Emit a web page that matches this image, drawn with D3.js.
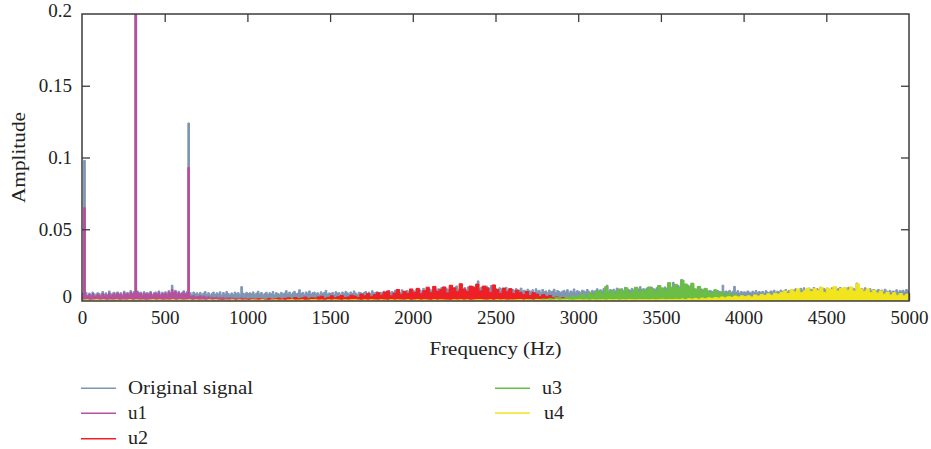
<!DOCTYPE html>
<html>
<head>
<meta charset="utf-8">
<script src="https://cdn.jsdelivr.net/npm/d3@7"></script>
<style>
  html, body { margin: 0; padding: 0; background: #fff; }
  svg { display: block; font-family: "Liberation Serif", "Times New Roman", serif; }
</style>
</head>
<body>
<svg id="chart" width="931" height="449"></svg>
<script>
// ---------- DATA (amplitudes in units of 1e-4) ----------
const AMP_UNIT = 1e-4;
const xTicks = [0, 500, 1000, 1500, 2000, 2500, 3000, 3500, 4000, 4500, 5000];
const yTicks = [0, 0.05, 0.1, 0.15, 0.2];
const yTickLabels = ["0", "0.05", "0.1", "0.15", "0.2"];
const seriesNames = ["Original signal", "u1", "u2", "u3", "u4"];
const seriesColors = ["#7f96b3", "#b84f9f", "#ee1f26", "#6abd45", "#f2e41d"];

// Original signal: 0..5000 Hz, 10 Hz bins
const originalStart = 0, originalStep = 10;
const original = [
  45,980,60,42,55,38,62,50,44,58,
  52,40,66,48,57,45,70,43,55,61,
  47,63,50,58,44,68,52,60,49,72,
  55,66,2600,70,58,62,48,65,54,60,
  50,67,45,58,63,52,70,47,61,55,
  64,50,72,58,110,62,75,55,68,52,
  60,71,54,66,1240,58,45,62,50,57,
  48,60,43,55,66,46,58,41,53,62,
  45,57,50,64,42,59,48,66,52,44,
  56,47,62,51,58,45,100,55,49,60,
  44,57,50,63,46,55,68,48,59,42,
  53,61,45,57,50,66,43,58,52,47,
  60,49,56,72,51,62,45,58,67,50,
  55,78,52,60,47,63,54,70,48,58,
  62,50,57,46,64,53,59,74,49,56,
  51,60,47,65,55,58,44,62,53,67,
  57,48,63,52,70,55,46,61,58,50,
  59,66,52,62,49,71,56,60,64,53,
  61,55,68,58,64,72,57,66,60,75,
  63,70,58,78,66,61,74,68,80,62,
  72,65,84,70,77,63,88,71,79,67,
  82,74,69,90,76,85,70,95,78,73,
  86,79,92,75,88,81,105,77,90,84,
  80,93,76,98,85,89,102,82,94,140,
  88,96,79,92,105,84,90,108,81,95,
  86,78,92,74,88,82,95,76,84,70,
  80,72,86,68,77,90,70,75,64,82,
  72,66,78,62,85,68,74,60,80,65,
  70,58,76,64,69,82,60,73,66,59,
  68,74,62,79,57,70,65,84,61,72,
  66,60,75,70,63,80,68,58,74,67,
  72,85,64,78,70,88,76,110,68,80,
  74,82,70,90,66,78,85,72,95,76,
  80,73,88,77,92,70,84,100,75,86,
  78,90,82,74,96,85,79,92,88,76,
  90,84,98,88,105,92,86,130,95,100,
  108,96,150,102,118,94,110,88,104,92,
  85,78,92,72,84,76,70,80,68,74,
  70,64,76,60,72,66,58,110,64,70,
  62,74,58,68,102,60,72,55,66,61,
  64,58,70,62,55,68,60,73,57,66,
  60,67,54,72,62,58,70,64,75,59,
  68,62,76,66,72,80,64,74,70,78,
  74,85,70,80,88,76,92,72,84,90,
  82,76,94,80,86,78,96,84,88,80,
  90,84,78,92,86,98,80,88,94,82,
  86,92,80,96,84,90,88,78,125,85,
  80,88,76,92,82,74,86,70,80,76,
  72,80,68,76,64,82,70,66,74,62,
  70,64,78,60,72,68,75,62,80,70,
  66
];

// u1: 0..1500 Hz, 10 Hz bins
const u1Start = 0, u1Step = 10;
const u1 = [
  30,650,40,28,45,22,50,35,30,48,
  38,25,52,33,44,28,55,30,42,50,
  35,55,40,48,30,58,42,52,38,62,
  45,56,2600,60,48,52,36,55,44,50,
  40,57,34,48,53,42,60,36,51,45,
  54,40,62,48,80,52,65,45,58,42,
  50,60,44,55,930,35,28,38,25,32,
  30,36,24,33,28,22,30,20,26,24,
  22,27,18,25,20,24,17,22,19,23,
  18,21,16,20,17,19,22,15,18,16,
  15,17,13,16,12,15,14,11,13,12,
  12,10,13,9,11,10,12,8,11,9,
  10,8,11,9,7,10,8,9,7,8,
  8,7,9,6,8,7,6,8,5,7,
  6,5,7,5,6,4,5,6,4,5,
  4
];

// u2: 800..4200 Hz, 20 Hz bins
const u2Start = 800, u2Step = 20;
const u2 = [
  3,6,8,4,5,9,7,6,10,8,
  9,13,8,16,12,10,18,11,15,20,
  14,19,22,13,24,17,21,27,16,23,
  20,28,33,19,25,36,22,30,38,24,
  28,40,34,25,48,36,52,30,44,58,
  40,62,70,36,55,80,46,68,52,84,
  60,88,50,72,96,58,102,66,82,98,
  56,110,92,64,120,84,66,104,96,118,
  70,104,92,60,112,80,54,90,64,86,
  52,76,60,44,66,38,58,48,32,44,
  30,38,22,28,18,24,12,16,10,12,
  8,10,7,9,6,8,5,7,6,8,
  5,7,6,4,6,5,7,4,6,5,
  6,4,5,7,4,6,5,3,5,6,
  4,6,3,5,4,6,5,3,4,5,
  3,5,4,6,3,4,5,3,4,3,
  4,3,5,3,4,2,3,4,2,3,
  2
];

// u3: 2600..5000 Hz, 20 Hz bins
const u3Start = 2600, u3Step = 20;
const u3 = [
  3,6,9,5,8,10,6,12,9,14,
  12,18,14,24,20,16,28,22,34,30,
  36,48,30,58,44,64,70,50,100,60,
  72,54,84,66,92,58,70,96,62,80,
  68,98,84,60,108,90,72,128,96,116,
  86,145,118,100,124,82,102,70,88,62,
  56,78,48,64,40,56,34,48,28,38,
  24,32,20,26,16,20,13,16,10,14,
  10,12,9,11,8,10,9,7,9,8,
  7,9,6,8,7,6,8,5,7,6,
  6,8,5,7,6,5,7,6,5,6,
  5,7,6,5,6,4,6,5,7,5,
  5
];

// u4: 0..5000 Hz, 20 Hz bins
const u4Start = 0, u4Step = 20;
const u4 = [
  6,8,5,7,9,6,8,5,7,6,
  8,5,7,6,9,5,8,6,7,5,
  7,9,6,8,5,7,6,9,5,8,
  6,7,9,5,8,6,7,5,9,6,
  8,6,5,7,6,9,5,8,6,7,
  5,8,7,6,9,6,5,7,8,6,
  7,5,8,9,6,7,8,5,6,9,
  9,6,7,5,8,6,9,7,5,8,
  6,8,9,7,5,8,6,9,7,6,
  8,7,5,9,6,8,7,6,9,5,
  7,9,6,8,7,5,9,6,8,7,
  6,5,8,7,9,6,8,5,7,9,
  9,7,6,8,5,9,7,8,6,7,
  7,8,9,6,8,7,5,9,8,6,
  8,6,7,9,6,8,9,7,6,8,
  9,7,8,6,9,7,8,9,7,10,
  8,10,7,9,8,11,9,8,10,9,
  10,9,11,8,10,12,9,11,10,12,
  10,14,9,16,13,18,12,20,15,22,
  18,24,20,28,22,30,26,34,28,36,
  30,36,28,42,34,46,38,50,40,54,
  48,60,70,52,78,64,84,58,72,90,
  66,86,74,96,60,90,80,100,70,88,
  92,76,98,70,120,84,68,84,60,76,
  56,70,48,62,42,58,40,52,36,48,
  40
];

const seriesValues = [original, u1, u2, u3, u4];
const seriesStarts = [originalStart, u1Start, u2Start, u3Start, u4Start];
const seriesSteps = [originalStep, u1Step, u2Step, u3Step, u4Step];

// ---------- CHART ----------
const svg = d3.select("#chart");
const plot = { left: 82, right: 909, top: 14, bottom: 301 };
const x = d3.scaleLinear().domain([0, 5000]).range([plot.left, plot.right]);
const y = d3.scaleLinear().domain([0, 0.2]).range([plot.bottom, plot.top]);
const axisColor = "#3c3c3c";
const fontSize = 19;

svg.append("defs").append("clipPath").attr("id", "clip")
  .append("rect")
  .attr("x", plot.left).attr("y", plot.top)
  .attr("width", plot.right - plot.left).attr("height", plot.bottom - plot.top);

// bottom axis (drawn under the data)
const gx = svg.append("g").attr("transform", `translate(0,${plot.bottom})`)
  .call(d3.axisBottom(x).tickValues(xTicks).tickSizeInner(-8).tickSizeOuter(0).tickPadding(10).tickFormat(d3.format("d")));
gx.select(".domain").remove();
gx.selectAll("line").attr("stroke", axisColor).attr("stroke-width", 1.3);
gx.selectAll("text").attr("font-size", fontSize).attr("fill", "#222").attr("font-family", "Liberation Serif");

// data
const dataG = svg.append("g").attr("clip-path", "url(#clip)");
seriesValues.forEach((vals, k) => {
  const pts = vals.map((v, i) => ({ f: seriesStarts[k] + i * seriesSteps[k], a: v * AMP_UNIT }));
  const area = d3.area().curve(d3.curveStepAfter)
    .x(d => x(d.f)).y0(y(0)).y1(d => y(d.a));
  const line = d3.line().curve(d3.curveStepAfter)
    .x(d => x(d.f)).y(d => y(d.a));
  dataG.append("path").datum(pts).attr("d", area).attr("fill", seriesColors[k]).attr("stroke", "none");
  dataG.append("path").datum(pts).attr("d", line).attr("fill", "none")
    .attr("stroke", seriesColors[k]).attr("stroke-width", 1).attr("stroke-linejoin", "miter");
});

// left axis
const gy = svg.append("g").attr("transform", `translate(${plot.left},0)`)
  .call(d3.axisLeft(y).tickValues(yTicks).tickSizeInner(-8).tickSizeOuter(0).tickPadding(10)
    .tickFormat((d, i) => yTickLabels[i]));
gy.select(".domain").remove();
gy.selectAll("line").attr("stroke", axisColor).attr("stroke-width", 1.3)
  .attr("display", d => (d === 0 || d === 0.2) ? "none" : null);
gy.selectAll("text").attr("font-size", fontSize).attr("fill", "#222").attr("font-family", "Liberation Serif")
  .attr("y", d => d === 0 ? -5 : (d === 0.2 ? -4 : 0));

// right axis
const gr = svg.append("g").attr("transform", `translate(${plot.right},0)`)
  .call(d3.axisRight(y).tickValues(yTicks.slice(1, -1)).tickSizeInner(-8).tickSizeOuter(0).tickFormat(""));
gr.select(".domain").remove();
gr.selectAll("line").attr("stroke", axisColor).attr("stroke-width", 1.3);

// top axis
const gt = svg.append("g").attr("transform", `translate(0,${plot.top})`)
  .call(d3.axisTop(x).tickValues(xTicks.slice(1, -1)).tickSizeInner(-8).tickSizeOuter(0).tickFormat(""));
gt.select(".domain").remove();
gt.selectAll("line").attr("stroke", axisColor).attr("stroke-width", 1.3);

// frame
svg.append("rect")
  .attr("x", plot.left).attr("y", plot.top)
  .attr("width", plot.right - plot.left).attr("height", plot.bottom - plot.top)
  .attr("fill", "none").attr("stroke", axisColor).attr("stroke-width", 1.5);

// axis titles
svg.append("text")
  .attr("x", (plot.left + plot.right) / 2).attr("y", 355)
  .attr("text-anchor", "middle").attr("font-size", fontSize).attr("fill", "#222")
  .attr("textLength", 132).attr("lengthAdjust", "spacingAndGlyphs")
  .text("Frequency (Hz)");
svg.append("text")
  .attr("transform", "translate(25,157.5) rotate(-90)")
  .attr("text-anchor", "middle").attr("font-size", fontSize).attr("fill", "#222")
  .attr("textLength", 91).attr("lengthAdjust", "spacingAndGlyphs")
  .text("Amplitude");

// legend
const legendPos = [
  { lx: 81, ly: 388.3, tx: 128, tw: 125 },
  { lx: 81, ly: 413.3, tx: 128, tw: 19 },
  { lx: 81, ly: 438.7, tx: 128, tw: 20 },
  { lx: 495, ly: 388.3, tx: 542, tw: 20 },
  { lx: 495, ly: 413.0, tx: 544, tw: 20 }
];
seriesNames.forEach((name, k) => {
  const p = legendPos[k];
  svg.append("line")
    .attr("x1", p.lx).attr("x2", p.lx + 35).attr("y1", p.ly).attr("y2", p.ly)
    .attr("stroke", seriesColors[k]).attr("stroke-width", 1.4);
  svg.append("text")
    .attr("x", p.tx).attr("y", p.ly + 5.5)
    .attr("font-size", fontSize).attr("fill", "#222")
    .attr("textLength", p.tw).attr("lengthAdjust", "spacingAndGlyphs")
    .text(name);
});
</script>
</body>
</html>
